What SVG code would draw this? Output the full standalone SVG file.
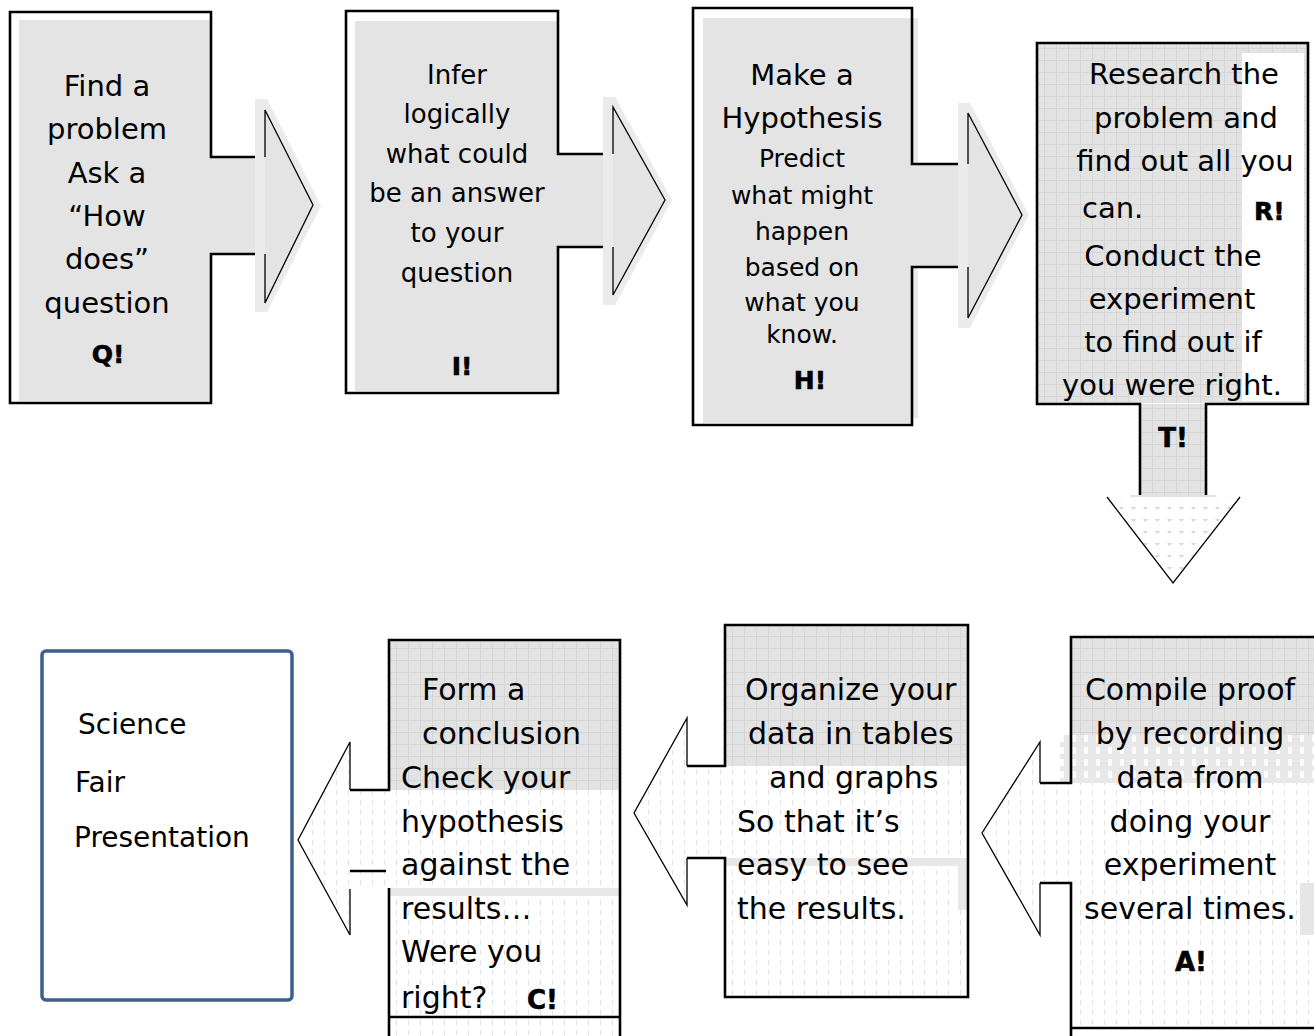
<svg xmlns="http://www.w3.org/2000/svg" width="1314" height="1036" viewBox="0 0 1314 1036">
<style>
.t{font-family:"DejaVu Sans","Liberation Sans",sans-serif;fill:#000;}
.c{text-anchor:middle;}
.b{font-family:"DejaVu Sans","Liberation Sans",sans-serif;font-weight:900;fill:#000;stroke:#000;stroke-width:0.6;}
.thick{fill:none;stroke:#000;stroke-width:2.6;stroke-linejoin:miter;}
.thin{fill:none;stroke:#000;stroke-width:1.3;}
.g{fill:#e4e4e4;}
.sh{fill:#ebebeb;}
</style>
<defs>
<pattern id="grid" patternUnits="userSpaceOnUse" width="12" height="12"><rect width="12" height="12" fill="#e3e3e3"/><path d="M0 .5H12M.5 0V12" stroke="#d5d5d5" stroke-width="1" fill="none"/></pattern>
<pattern id="dash" patternUnits="userSpaceOnUse" width="12" height="10"><rect width="12" height="10" fill="#fff"/><path d="M.5 0V5" stroke="#e2e2e2" stroke-width="1"/></pattern>
<pattern id="band" patternUnits="userSpaceOnUse" width="12" height="12"><rect width="12" height="12" fill="#e8e8e8"/><rect x="4" y="3" width="4" height="7" fill="#fcfcfc"/></pattern>
<pattern id="ticks" patternUnits="userSpaceOnUse" width="12" height="12"><rect width="12" height="12" fill="#fff"/><path d="M3 3h5l-2.5 3z" fill="#d6d6d6"/></pattern>
</defs>

<!-- Q -->
<g id="node-q">
<rect class="g" x="19" y="20" width="192" height="381"/>
<rect class="g" x="211" y="157" width="54" height="97"/>
<path class="thick" d="M265,157 H211 V12 H10 V403 H211 V254 H265"/>
<text class="t c" font-size="29" x="107" y="96">Find a</text>
<text class="t c" font-size="29" x="107" y="139">problem</text>
<text class="t c" font-size="29" x="107" y="183">Ask a</text>
<text class="t c" font-size="29" x="107" y="226">“How</text>
<text class="t c" font-size="29" x="107" y="269">does”</text>
<text class="t c" font-size="29" x="107" y="313">question</text>
<text class="b c" font-size="25" x="108" y="363">Q!</text>
</g>

<!-- I -->
<g id="node-i">
<rect class="g" x="355" y="21" width="203" height="370"/>
<rect class="g" x="558" y="154" width="55" height="93"/>
<path class="thick" d="M613,154 H558 V11 H346 V393 H558 V247 H613"/>
<text class="t c" font-size="26" x="457" y="84">Infer</text>
<text class="t c" font-size="26" x="457" y="123">logically</text>
<text class="t c" font-size="26" x="457" y="163">what could</text>
<text class="t c" font-size="26" x="457" y="202">be an answer</text>
<text class="t c" font-size="26" x="457" y="242">to your</text>
<text class="t c" font-size="26" x="457" y="282">question</text>
<text class="b c" font-size="25" x="462" y="375">I!</text>
</g>

<!-- H -->
<g id="node-h">
<rect class="sh" x="703" y="18" width="215" height="400"/>
<rect class="g" x="703" y="18" width="209" height="405"/>
<rect class="g" x="912" y="164" width="56" height="103"/>
<path class="thick" d="M968,164 H912 V8 H693 V425 H912 V267 H968"/>
<text class="t c" font-size="29" x="802" y="85">Make a</text>
<text class="t c" font-size="29" x="802" y="128">Hypothesis</text>
<text class="t c" font-size="25" x="802" y="167">Predict</text>
<text class="t c" font-size="25" x="802" y="204">what might</text>
<text class="t c" font-size="25" x="802" y="240">happen</text>
<text class="t c" font-size="25" x="802" y="276">based on</text>
<text class="t c" font-size="25" x="802" y="311">what you</text>
<text class="t c" font-size="25" x="802" y="343">know.</text>
<text class="b c" font-size="25" x="810" y="389">H!</text>
</g>

<!-- R / T -->
<g id="node-rt">
<rect x="1038" y="44" width="269" height="359" fill="url(#grid)"/>
<rect x="1242" y="53" width="62" height="348" fill="#fff"/>
<rect x="1141" y="404" width="65" height="92" fill="url(#grid)"/>
<path class="thick" d="M1140,497 V404 H1037 V43 H1308 V404 H1206 V497"/>
<text class="t c" font-size="29" x="1184" y="84">Research the</text>
<text class="t c" font-size="29" x="1186" y="128">problem and</text>
<text class="t c" font-size="29" x="1185" y="171">find out all you</text>
<text class="t" font-size="29" x="1082" y="218">can.</text>
<text class="b" font-size="25" x="1254" y="220">R!</text>
<text class="t c" font-size="29" x="1173" y="266">Conduct the</text>
<text class="t c" font-size="29" x="1172" y="309">experiment</text>
<text class="t c" font-size="29" x="1173" y="352">to find out if</text>
<text class="t c" font-size="29" x="1172" y="395">you were right.</text>
<text class="b c" font-size="26" x="1173" y="447">T!</text>
</g>

<!-- A -->
<g id="node-a">
<rect x="1072" y="638" width="242" height="98" fill="url(#grid)"/>
<rect x="1060" y="735" width="254" height="48" fill="url(#band)"/>
<rect x="1072" y="783" width="242" height="244" fill="url(#dash)"/>
<rect x="1040" y="784" width="31" height="99" fill="url(#dash)"/>
<rect x="1300" y="883" width="14" height="52" fill="#e6e6e6"/>
<path class="thick" d="M1040,783 H1071 V637 H1314"/>
<path class="thick" d="M1040,883 H1071 V1036"/>
<path class="thick" d="M1071,1028 H1314"/>
<text class="t c" font-size="30" x="1190" y="700">Compile proof</text>
<text class="t c" font-size="30" x="1190" y="744">by recording</text>
<text class="t c" font-size="30" x="1190" y="788">data from</text>
<text class="t c" font-size="30" x="1190" y="832">doing your</text>
<text class="t c" font-size="30" x="1190" y="875">experiment</text>
<text class="t c" font-size="30" x="1190" y="919">several times.</text>
<text class="b c" font-size="26" x="1191" y="971">A!</text>
</g>

<!-- O -->
<g id="node-o">
<rect x="726" y="626" width="241" height="140" fill="url(#grid)"/>
<rect x="726" y="766" width="241" height="230" fill="url(#dash)"/>
<rect x="688" y="767" width="37" height="91" fill="url(#dash)"/>
<rect x="726" y="858" width="241" height="8" fill="#e8e8e8"/>
<rect x="958" y="858" width="9" height="52" fill="#e8e8e8"/>
<path class="thick" d="M687,766 H725 V625 H968 V997 H725 V858 H687"/>
<text class="t" font-size="30" x="745" y="700">Organize your</text>
<text class="t" font-size="30" x="748" y="744">data in tables</text>
<text class="t" font-size="30" x="769" y="788">and graphs</text>
<text class="t" font-size="30" x="737" y="832">So that it’s</text>
<text class="t" font-size="30" x="737" y="875">easy to see</text>
<text class="t" font-size="30" x="737" y="919">the results.</text>
</g>

<!-- C -->
<g id="node-c">
<rect x="390" y="641" width="229" height="149" fill="url(#grid)"/>
<rect x="390" y="790" width="229" height="246" fill="url(#dash)"/>
<rect x="351" y="791" width="38" height="97" fill="url(#dash)"/>
<rect x="390" y="888" width="229" height="8" fill="#e8e8e8"/>
<path class="thick" d="M350,790 H389 V640 H620 V1036"/>
<path class="thick" d="M389,888 V1036"/>
<path class="thick" d="M389,1017 H620"/>
<path class="thick" d="M350,871 H386"/>
<text class="t" font-size="30" x="422" y="700">Form a</text>
<text class="t" font-size="30" x="422" y="744">conclusion</text>
<text class="t" font-size="30" x="401" y="788">Check your</text>
<text class="t" font-size="30" x="401" y="832">hypothesis</text>
<text class="t" font-size="30" x="401" y="875">against the</text>
<text class="t" font-size="30" x="401" y="919">results…</text>
<text class="t" font-size="30" x="401" y="962">Were you</text>
<text class="t" font-size="30" x="401" y="1008">right?</text>
<text class="b" font-size="26" x="527" y="1009">C!</text>
</g>

<!-- Science Fair Presentation -->
<g id="node-presentation">
<rect x="42" y="651" width="250" height="349" rx="4" fill="#fff" stroke="#3d5f8e" stroke-width="3.5"/>
<text class="t" font-size="28" x="78" y="734">Science</text>
<text class="t" font-size="28" x="75" y="792">Fair</text>
<text class="t" font-size="28" x="74" y="847">Presentation</text>
</g>

<g id="connectors">
<polygon class="sh" points="255,99 267,99 321,206 267,312 255,312"/>
<polygon class="g" points="265,110 313,205 265,303"/>
<path class="thin" d="M265,157 V110 L313,205 L265,303 V254"/>

<polygon class="sh" points="603,97 615,97 672,200 615,305 603,305"/>
<polygon class="g" points="613,107 665,200 613,295"/>
<path class="thin" d="M613,154 V107 L665,200 L613,295 V247"/>

<polygon class="sh" points="958,103 970,103 1029,215 970,328 958,328"/>
<polygon class="g" points="968,113 1022,215 968,318"/>
<path class="thin" d="M968,164 V113 L1022,215 L968,318 V267"/>

<rect x="1130" y="495" width="86" height="6" fill="#e2e2e2"/>
<polygon points="1107,497 1240,497 1173,583" fill="url(#ticks)"/>
<path class="thin" d="M1107,497 L1173,583 L1240,497"/>

<polygon points="1040,742 982,833 1040,935" fill="url(#dash)"/>
<path class="thin" d="M1040,783 V742 L982,833 L1040,935 V883"/>

<polygon points="687,718 634,813 687,905" fill="url(#dash)"/>
<path class="thin" d="M687,766 V718 L634,813 L687,905 V858"/>

<polygon points="350,742 298,840 350,935" fill="url(#dash)"/>
<path class="thin" d="M350,790 V742 L298,840 L350,935 V889"/>
</g>
</svg>
